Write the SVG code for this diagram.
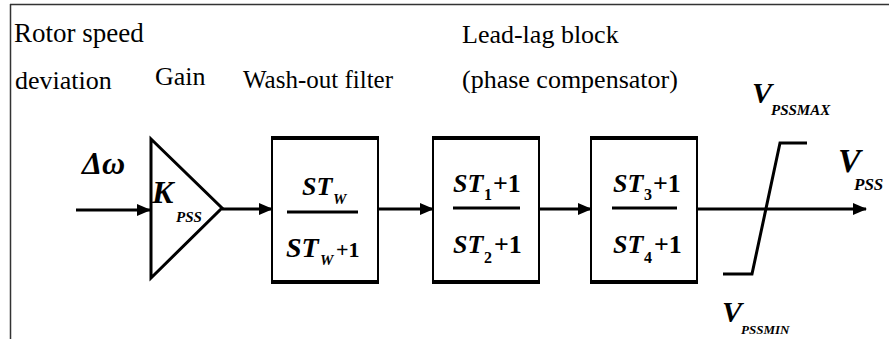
<svg xmlns="http://www.w3.org/2000/svg" width="889" height="339" viewBox="0 0 889 339">
<style>
.m{font-style:italic;font-weight:bold;fill:#000}
.r{font-weight:bold;fill:#000}
.t{fill:#000}
.w{stroke:#000;stroke-width:3;fill:none}
.box{fill:#fff;stroke:#000;stroke-width:2}
.edge{stroke:#000;stroke-width:4}
</style>
<defs>
<marker id="ah" markerWidth="14" markerHeight="12" refX="13" refY="6" orient="auto" markerUnits="userSpaceOnUse">
<path d="M0,0 L14,6 L0,12 Z" fill="#000"/>
</marker>
</defs>
<rect width="889" height="339" fill="#fff"/>
<g id="frame">
<line x1="10" y1="4.5" x2="889" y2="4.5" stroke="#333" stroke-width="1.5"/>
<line x1="10.5" y1="4" x2="10.5" y2="339" stroke="#333" stroke-width="1.5"/>
</g>
<g id="labels">
<text class="t" font-family="Times New Roman" font-size="27" x="14" y="42">Rotor speed</text>
<text class="t" font-family="Times New Roman" font-size="26" x="15" y="89">deviation</text>
<text class="t" font-family="Times New Roman" font-size="26" x="155" y="85">Gain</text>
<text class="t" font-family="Times New Roman" font-size="25" x="243" y="88">Wash-out filter</text>
<text class="t" font-family="Times New Roman" font-size="26" x="462" y="43">Lead-lag block</text>
<text class="t" font-family="Times New Roman" font-size="26" x="462" y="88">(phase compensator)</text>
</g>
<g id="connectors">
<line class="w" x1="76" y1="210" x2="150" y2="210" marker-end="url(#ah)"/>
<line class="w" x1="222" y1="209" x2="272" y2="209" marker-end="url(#ah)"/>
<line class="w" x1="378" y1="209" x2="433" y2="209" marker-end="url(#ah)"/>
<line class="w" x1="539" y1="209" x2="591" y2="209" marker-end="url(#ah)"/>
<line class="w" x1="697" y1="209" x2="866" y2="209" marker-end="url(#ah)"/>
</g>
<g id="input">
<text class="m" font-family="Times New Roman" font-size="32" x="82" y="174">Δω</text>
</g>
<g id="gain">
<polygon points="151,139 222,208 151,278" fill="#fff" stroke="#000" stroke-width="3"/>
<text class="m" font-family="Times New Roman" font-size="32" x="152" y="203">K</text>
<text class="m" font-family="Times New Roman" font-size="15" x="176" y="222">PSS</text>
</g>
<g id="washout">
<rect class="box" x="272" y="138" width="106" height="144"/>
<line class="edge" x1="271" y1="138" x2="379" y2="138"/>
<line class="edge" x1="271" y1="282" x2="379" y2="282"/>
<text class="m" font-family="Times New Roman" font-size="26" x="302" y="195">ST</text>
<text class="m" font-family="Times New Roman" font-size="15" x="333" y="204">W</text>
<line x1="287" y1="212" x2="358" y2="212" stroke="#000" stroke-width="3"/>
<text class="m" font-family="Times New Roman" font-size="28" x="286" y="257">ST</text>
<text class="m" font-family="Times New Roman" font-size="15" x="320" y="265">W</text>
<text class="r" font-family="Times New Roman" font-size="22" x="336" y="257">+1</text>
</g>
<g id="leadlag1">
<rect class="box" x="433" y="138" width="106" height="144"/>
<line class="edge" x1="432" y1="138" x2="540" y2="138"/>
<line class="edge" x1="432" y1="282" x2="540" y2="282"/>
<text class="m" font-family="Times New Roman" font-size="26" x="453" y="192">ST</text>
<text class="r" font-family="Times New Roman" font-size="16" x="484" y="200">1</text>
<text class="r" font-family="Times New Roman" font-size="26" x="493" y="192">+1</text>
<line x1="453" y1="208" x2="520" y2="208" stroke="#000" stroke-width="3"/>
<text class="m" font-family="Times New Roman" font-size="26" x="453" y="253">ST</text>
<text class="r" font-family="Times New Roman" font-size="16" x="484" y="263">2</text>
<text class="r" font-family="Times New Roman" font-size="26" x="494" y="253">+1</text>
</g>
<g id="leadlag2">
<rect class="box" x="591" y="138" width="106" height="144"/>
<line class="edge" x1="590" y1="138" x2="698" y2="138"/>
<line class="edge" x1="590" y1="282" x2="698" y2="282"/>
<text class="m" font-family="Times New Roman" font-size="26" x="613" y="192">ST</text>
<text class="r" font-family="Times New Roman" font-size="16" x="644" y="200">3</text>
<text class="r" font-family="Times New Roman" font-size="26" x="653" y="192">+1</text>
<line x1="612" y1="208" x2="677" y2="208" stroke="#000" stroke-width="3"/>
<text class="m" font-family="Times New Roman" font-size="26" x="613" y="253">ST</text>
<text class="r" font-family="Times New Roman" font-size="16" x="644" y="263">4</text>
<text class="r" font-family="Times New Roman" font-size="26" x="654" y="253">+1</text>
</g>
<g id="limiter">
<polyline points="723,274 752,274 780,143 807,143" fill="none" stroke="#000" stroke-width="3"/>
<text class="m" font-family="Times New Roman" font-size="30" x="752" y="103">V</text>
<text class="m" font-family="Times New Roman" font-size="15" x="771" y="115">PSSMAX</text>
<text class="m" font-family="Times New Roman" font-size="30" x="722" y="322">V</text>
<text class="m" font-family="Times New Roman" font-size="13" x="741" y="334">PSSMIN</text>
</g>
<g id="output">
<text class="m" font-family="Times New Roman" font-size="34" x="838" y="172">V</text>
<text class="m" font-family="Times New Roman" font-size="17" x="854" y="190">PSS</text>
</g>
</svg>
